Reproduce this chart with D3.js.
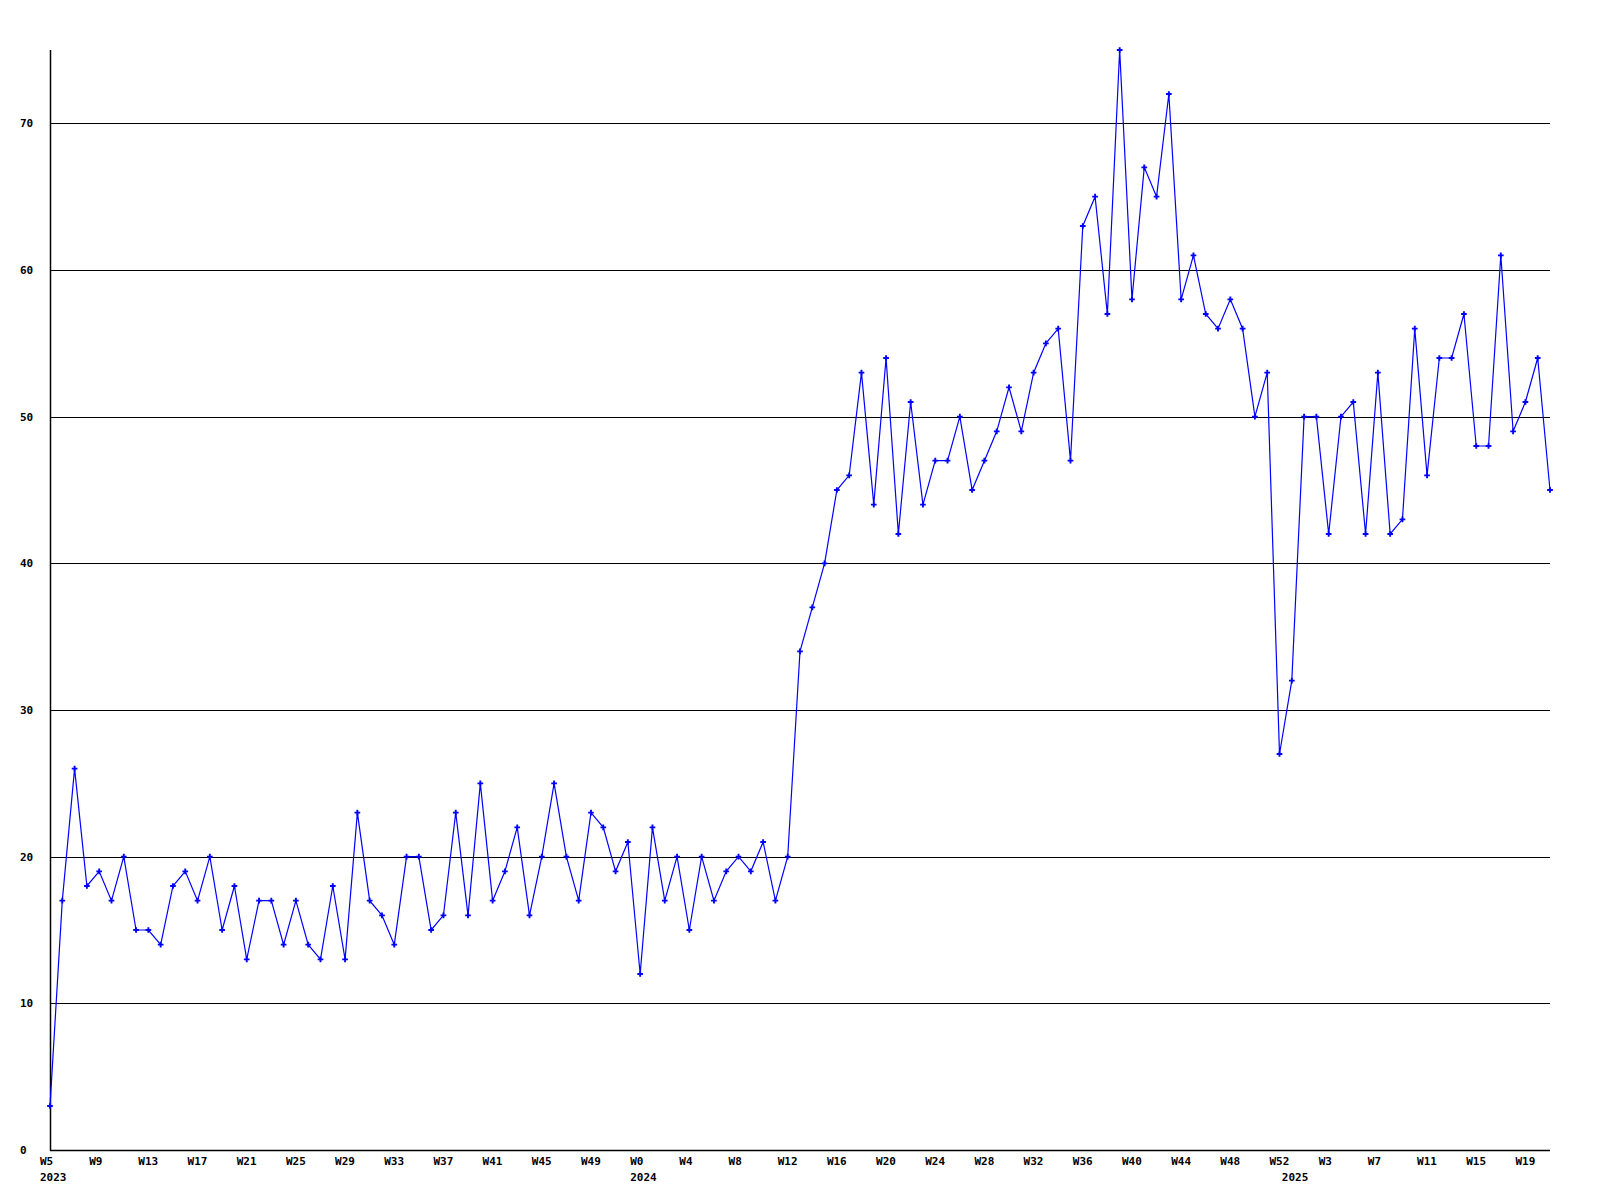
<!DOCTYPE html>
<html>
<head>
<meta charset="utf-8">
<script src="https://cdn.jsdelivr.net/npm/d3@7"></script>
<style>
  html, body { margin: 0; padding: 0; background: #fff; }
  svg text { font-family: "DejaVu Sans Mono", "Liberation Mono", monospace; font-size: 11px; font-weight: bold; fill: #000; }
</style>
</head>
<body>
<svg id="chart" width="1600" height="1200"></svg>
<script>
// Categories: week numbers and their years
const years = [
  2023,2023,2023,2023,2023,2023,2023,2023,2023,2023,2023,2023,2023,2023,2023,2023,2023,2023,2023,2023,2023,2023,2023,2023,
  2023,2023,2023,2023,2023,2023,2023,2023,2023,2023,2023,2023,2023,2023,2023,2023,2023,2023,2023,2023,2023,2023,2023,2023,
  2024,2024,2024,2024,2024,2024,2024,2024,2024,2024,2024,2024,2024,2024,2024,2024,2024,2024,2024,2024,2024,2024,2024,2024,
  2024,2024,2024,2024,2024,2024,2024,2024,2024,2024,2024,2024,2024,2024,2024,2024,2024,2024,2024,2024,2024,2024,2024,2024,
  2024,2024,2024,2024,2024,
  2025,2025,2025,2025,2025,2025,2025,2025,2025,2025,2025,2025,2025,2025,2025,2025,2025,2025,2025,2025,2025,2025
];
const weeks = [
  5,6,7,8,9,10,11,12,13,14,15,16,17,18,19,20,21,22,23,24,25,26,27,28,
  29,30,31,32,33,34,35,36,37,38,39,40,41,42,43,44,45,46,47,48,49,50,51,52,
  0,1,2,3,4,5,6,7,8,9,10,11,12,13,14,15,16,17,18,19,20,21,22,23,
  24,25,26,27,28,29,30,31,32,33,34,35,36,37,38,39,40,41,42,43,44,45,46,47,
  48,49,50,51,52,
  0,1,2,3,4,5,6,7,8,9,10,11,12,13,14,15,16,17,18,19,20,21
];
const values = [
  3,17,26,18,19,17,20,15,15,14,18,19,17,20,15,18,13,17,17,14,17,14,13,18,
  13,23,17,16,14,20,20,15,16,23,16,25,17,19,22,16,20,25,20,17,23,22,19,21,
  12,22,17,20,15,20,17,19,20,19,21,17,20,34,37,40,45,46,53,44,54,42,51,44,
  47,47,50,45,47,49,52,49,53,55,56,47,63,65,57,75,58,67,65,72,58,61,57,56,
  58,56,50,53,27,
  32,50,50,42,50,51,42,53,42,43,56,46,54,54,57,48,48,61,49,51,54,45
];
const yTicks = [0,10,20,30,40,50,60,70];
const yMax = 75;
const tickEvery = 4;

const svg = d3.select("#chart");
const mLeft = 50, mRight = 1550, mTop = 50, mBottom = 1150;

const x = d3.scaleLinear().domain([0, values.length - 1]).range([mLeft, mRight]);
const y = d3.scaleLinear().domain([0, yMax]).range([mBottom, mTop]);

// Gridlines
svg.append("g").selectAll("line").data(yTicks.filter(d => d > 0)).join("line")
  .attr("x1", mLeft).attr("x2", mRight)
  .attr("y1", d => Math.round(y(d)) + 0.5).attr("y2", d => Math.round(y(d)) + 0.5)
  .attr("stroke", "#000").attr("stroke-width", 1);

// Y labels
svg.append("g").selectAll("text").data(yTicks).join("text")
  .attr("x", 20).attr("y", d => Math.round(y(d)) + 4)
  .text(d => d);

// Axis lines
svg.append("line").attr("x1", mLeft + 0.5).attr("x2", mLeft + 0.5).attr("y1", mTop).attr("y2", mBottom + 0.5)
  .attr("stroke", "#000").attr("stroke-width", 1.5);
svg.append("line").attr("x1", mLeft).attr("x2", mRight).attr("y1", mBottom + 0.5).attr("y2", mBottom + 0.5)
  .attr("stroke", "#000").attr("stroke-width", 1.5);

// X week labels
const idx = d3.range(values.length);
svg.append("g").selectAll("text").data(idx.filter(i => i % tickEvery === 0)).join("text")
  .attr("x", i => x(i) - 10).attr("y", 1165)
  .text(i => "W" + weeks[i]);

// Year labels at first week of each year
svg.append("g").selectAll("text").data(idx.filter(i => i === 0 || years[i] !== years[i - 1])).join("text")
  .attr("x", i => x(i) - 10).attr("y", 1181)
  .text(i => years[i]);

// Line
const line = d3.line().x((d, i) => x(i)).y(d => y(d));
svg.append("path").datum(values)
  .attr("d", line).attr("fill", "none").attr("stroke", "#0000ff").attr("stroke-width", 1.2);

// Markers
svg.append("g").selectAll("path").data(values).join("path")
  .attr("transform", (d, i) => `translate(${x(i)},${y(d)})`)
  .attr("d", d3.symbol().type(d3.symbolCross).size(18))
  .attr("fill", "#0000ff");
</script>
</body>
</html>
